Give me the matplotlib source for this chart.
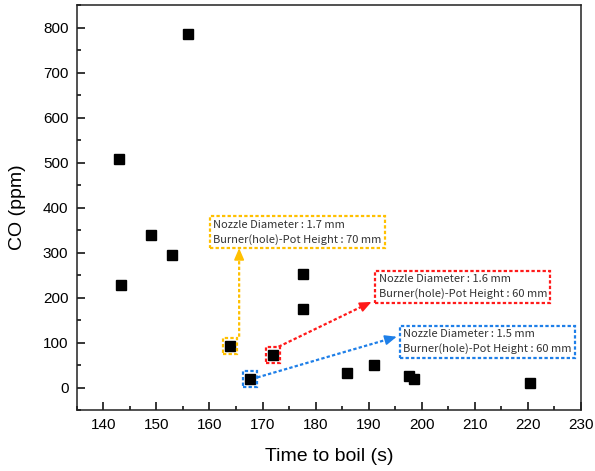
import numpy as np
import matplotlib
matplotlib.use("Agg")
import matplotlib.pyplot as plt
import matplotlib.transforms as mtransforms
from matplotlib.patches import Rectangle
from matplotlib.lines import Line2D

# data
time_to_boil = [143.0, 143.3, 148.9, 153.0, 156.0, 163.9, 167.7, 171.9,
                177.6, 177.7, 186.0, 191.0, 197.6, 198.6, 220.4]
co_ppm = [508, 227, 340, 295, 787, 93, 18, 73,
          252, 174, 32, 49, 25, 19, 11]

# highlighted points: index, label, colour, box corner (axes fraction), arrow end (axes fraction), arrow start offset (px)
notes = [
    (5, "Nozzle Diameter : 1.7 mm\nBurner(hole)-Pot Height : 70 mm", "#FFC000",
     (0.263, 0.40), (0.322, 0.40), (9, 9)),
    (7, "Nozzle Diameter : 1.6 mm\nBurner(hole)-Pot Height : 60 mm", "#FF1A1A",
     (0.5915, 0.265), (0.5845, 0.267), (6, 8)),
    (6, "Nozzle Diameter : 1.5 mm\nBurner(hole)-Pot Height : 60 mm", "#1E7FE8",
     (0.640, 0.129), (0.6345, 0.181), (7, 2)),
]

plt.rcParams['font.family'] = ['Liberation Sans', 'DejaVu Sans']

fig = plt.figure(figsize=(5.95, 4.71), dpi=100)
ax = fig.add_axes([0.129, 0.1295, 0.8475, 0.8595])

ax.plot(time_to_boil, co_ppm, 's', color='black', markersize=7, zorder=3)

ax.set_xlim(135, 230)
ax.set_ylim(-50, 850)
ax.set_xticks(np.arange(140, 231, 10))
ax.set_yticks(np.arange(0, 801, 100))
ax.set_xticks(np.arange(135, 231, 5), minor=True)
ax.set_yticks(np.arange(-50, 851, 50), minor=True)
ax.tick_params(which='both', direction='in', top=False, right=False, width=1.1, labelsize=11)
ax.tick_params(which='major', length=5.5, pad=6)
ax.tick_params(which='minor', length=3)
for s in ax.spines.values():
    s.set_linewidth(1.1)
    s.set_color('#222222')

ax.set_xlabel('Time to boil (s)', fontsize=14, labelpad=11)
ax.set_ylabel('CO (ppm)', fontsize=14, labelpad=12)

for idx, label, col, (bx, by), end, (dx, dy) in notes:
    px, py = time_to_boil[idx], co_ppm[idx]
    # dashed square around the marker
    trans = fig.dpi_scale_trans + mtransforms.ScaledTranslation(px, py, ax.transData)
    ax.add_patch(Rectangle((-0.07, -0.08), 0.14, 0.16, transform=trans, fill=False,
                           edgecolor=col, linestyle=(0, (1.5, 1)), linewidth=1.6, zorder=4))
    # text box, placed so the frame's lower left corner sits at (bx, by)
    off = mtransforms.ScaledTranslation(3.5 / 100, 3.5 / 100, fig.dpi_scale_trans)
    ax.text(bx, by, label, transform=ax.transAxes + off, fontsize=8,
            family=['Noto Sans CJK KR', 'DejaVu Sans'], color='#333333',
            ha='left', va='bottom', linespacing=1.45,
            bbox=dict(boxstyle='square,pad=0.3', facecolor='white', edgecolor=col,
                      linestyle=(0, (1.5, 1)), linewidth=1.6))
    # dashed arrow shaft (display pixels) + solid head
    start = ax.transData + mtransforms.ScaledTranslation(dx / 100, dy / 100, fig.dpi_scale_trans)
    p0 = np.array(start.transform((px, py)))
    p1 = np.array(ax.transAxes.transform(end))
    u = (p1 - p0) / np.hypot(*(p1 - p0))
    pb = p1 - u * 8
    fig.add_artist(Line2D([p0[0], pb[0]], [p0[1], pb[1]], transform=mtransforms.IdentityTransform(),
                          color=col, linestyle=(0, (1.5, 1)), linewidth=1.6))
    ax.annotate('', xy=p1, xycoords='figure pixels', xytext=pb, textcoords='figure pixels',
                arrowprops=dict(arrowstyle='-|>,head_length=0.7,head_width=0.3', color=col,
                                linewidth=1.2, shrinkA=0, shrinkB=0))

fig.savefig('out.png', dpi=100)
